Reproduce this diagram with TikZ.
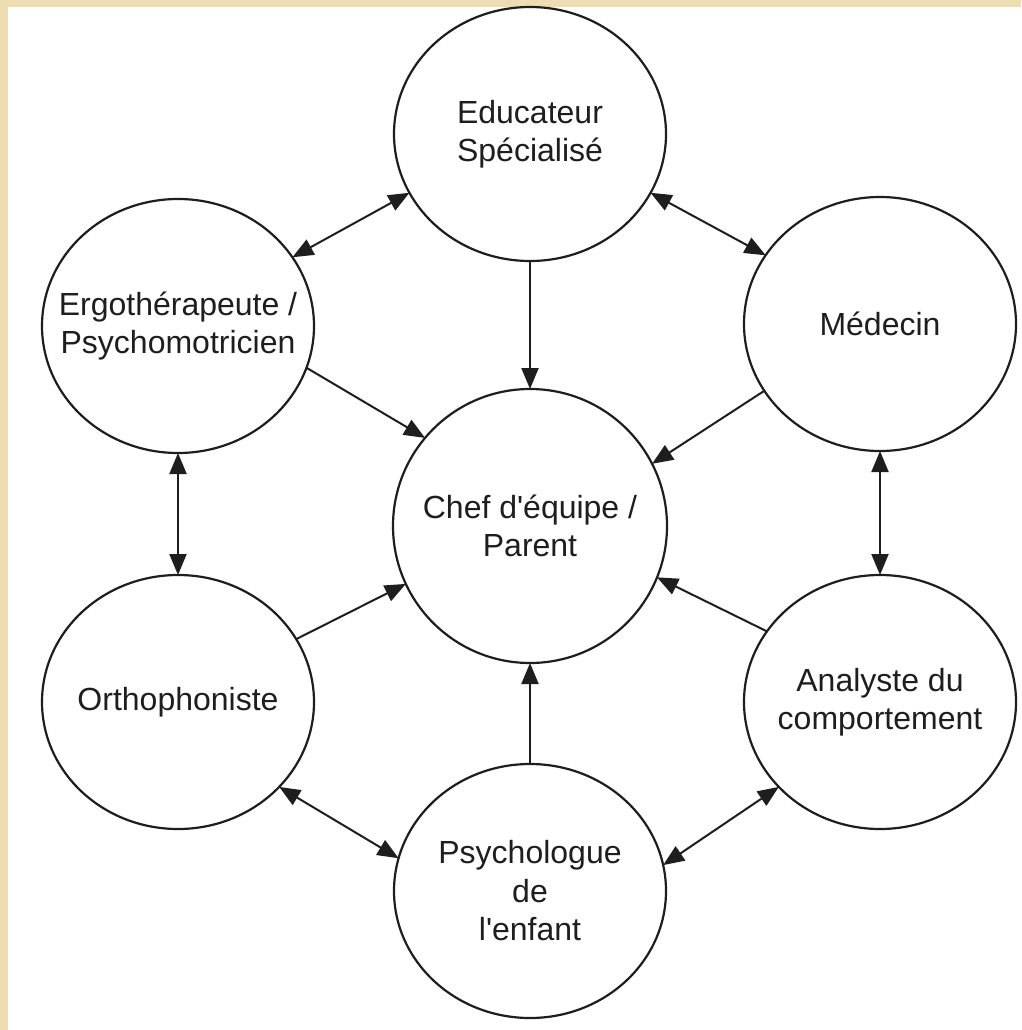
\documentclass[tikz,border=0pt]{standalone}
\usepackage{fontspec}
\setmainfont{Liberation Sans}[Ligatures=ResetAll]
\usetikzlibrary{shapes.geometric,arrows.meta}
\definecolor{beige}{RGB}{238,221,178}
\definecolor{ink}{RGB}{30,30,30}
\begin{document}
\begin{tikzpicture}[x=1pt,y=-1pt,
  bubble/.style={draw=ink, line width=2.2pt, ellipse, minimum width=272pt,
    minimum height=254pt, inner sep=0pt, outer sep=0pt},
  bigcircle/.style={draw=ink, line width=2.2pt, circle, minimum size=274pt,
    inner sep=0pt, outer sep=0pt},
  txt/.style={align=center, font=\fontsize{32}{38.5}\selectfont, text=ink},
  tip/.tip={Triangle[length=21pt,width=17pt]},
  link/.style={draw=ink, line width=2pt, -tip},
  dlink/.style={draw=ink, line width=2pt, tip-tip}]
\useasboundingbox (0,0) rectangle (1021,1030);
\fill[beige] (0,0) rectangle (1021,1030);
\fill[white] (8,7) rectangle (1021,1030);

\node[bubble, label={[txt]center:{Educateur\\Spécialisé}}] (edu) at (530,134) {};
\node[bubble, label={[txt]center:{Ergothérapeute /\\Psychomotricien}}] (ergo) at (178,326) {};
\node[bubble, label={[txt]center:{Médecin}}] (med) at (880,324) {};
\node[bigcircle, label={[txt]center:{Chef d\textquotesingle équipe /\\Parent}}] (chef) at (530,526) {};
\node[bubble, label={[txt]center:{Orthophoniste}}] (ortho) at (178,702) {};
\node[bubble, label={[txt]center:{Analyste du\\comportement}}] (ana) at (880,702) {};
\node[bubble, label={[txt]center:{Psychologue\\de\\l\textquotesingle enfant}}] (psy) at (530,891) {};

\draw[dlink] (ergo.31) -- (edu.206.4);
\draw[dlink] (edu.-26) -- (med.149.3);
\draw[link] (edu.south) -- (chef.north);
\draw[link] (ergo.-18) -- (chef.140);
\draw[link] (med.210) -- (chef.27);
\draw[dlink] (ergo.south) -- (ortho.north);
\draw[dlink] (med.south) -- (ana.north);
\draw[link] (ortho.28) -- (chef.205);
\draw[link] (ana.148) -- (chef.-22);
\draw[link] (psy.north) -- (chef.south);
\draw[dlink] (ortho.-40) -- (psy.166);
\draw[dlink] (psy.11.5) -- (ana.220.5);
\end{tikzpicture}
\end{document}
